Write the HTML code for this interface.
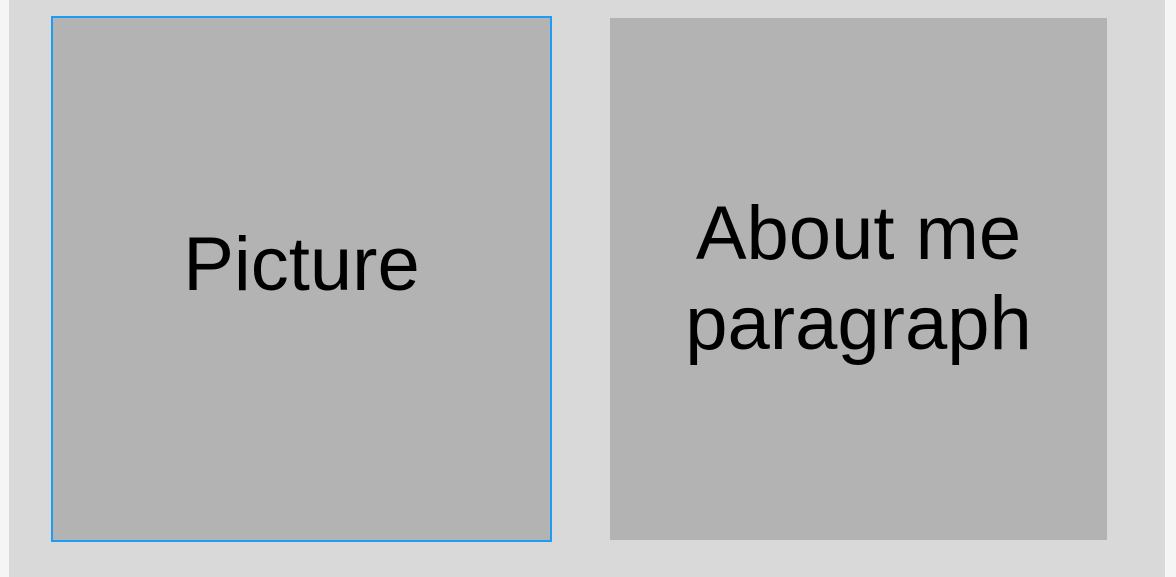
<!DOCTYPE html>
<html><head><style>
body{margin:0;width:1176px;height:577px;background:#f5f5f5;position:relative;overflow:hidden;font-family:"Liberation Sans",sans-serif}
.bg{position:absolute;left:9px;top:0;width:1156px;height:577px;background:#d9d9d9}
.b{position:absolute;background:#b3b3b3;color:#000;display:flex;align-items:center;justify-content:center;text-align:center;font-size:76px;line-height:90px}
</style></head><body>
<div class="bg"></div>
<div class="b" style="left:51px;top:16px;width:497px;height:522px;border:2px solid #1e9bf5"><span style="position:relative;top:-14px">Picture</span></div>
<div class="b" style="left:610px;top:18px;width:497px;height:522px"><span style="position:relative;top:0px">About me<br>paragraph</span></div>
</body></html>
